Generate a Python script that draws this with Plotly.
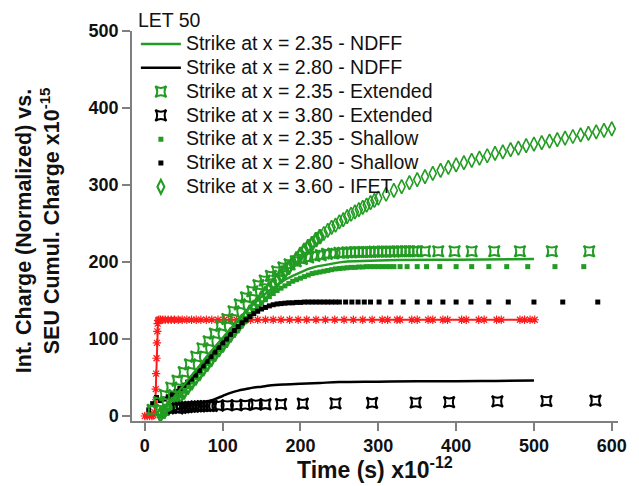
import plotly.graph_objects as go

# ---------------- data (time in ps, charge in fC) ----------------
red_t = [0, 3, 6, 9, 11, 12.5, 13.5, 14, 14.5, 15, 15.5, 16, 16.5, 17, 18, 20, 23, 26, 30, 34,
         38, 43, 48, 54, 60, 66, 72, 79, 86, 94, 102, 110, 118, 127, 136, 145, 155, 165, 175, 186,
         197, 208, 220, 232, 244, 256, 268, 280, 292, 305, 312, 324, 328, 343, 350, 364, 370, 383, 389, 407,
         413, 429, 436, 452, 458, 482, 488, 495, 501]
red_v = [0, 0, 0, 0, 1, 5, 18, 35, 55, 75, 95, 110, 120, 124, 125, 125, 125, 125, 125, 125,
         125, 125, 125, 125, 125, 125, 125, 125, 125, 125, 125, 125, 125, 125, 125, 125, 125, 125, 125, 125,
         125, 125, 125, 125, 125, 125, 125, 125, 125, 125, 125, 125, 125, 125, 125, 125, 125, 125, 125, 125,
         125, 125, 125, 125, 125, 125, 125, 125, 125]

g_ndff_t = [20, 25, 30, 40, 50, 60, 70, 80, 90, 100, 110, 120, 130, 140, 150, 160, 170, 180, 190, 200,
            210, 220, 230, 240, 250, 260, 280, 300, 325, 350, 375, 400, 450, 500]
g_ndff_v = [2, 8, 15, 28, 40, 53, 65, 78, 90, 102, 114, 125, 136, 146, 155, 163, 170, 177, 182, 187,
            191, 194, 196, 198, 199.5, 200.5, 201.5, 202, 202.5, 203, 203, 203, 203.5, 204]

k_ndff_t = [30, 40, 50, 60, 70, 80, 90, 100, 110, 120, 130, 140, 150, 160, 180, 200, 225, 250, 300,
            350, 400, 450, 500]
k_ndff_v = [3, 8, 11.5, 14, 16, 19, 22, 26, 30, 33, 35, 37, 38, 39.5, 41, 42, 43, 44, 44.5,
            45, 45, 45.5, 46]

g_ext_t = [10, 18, 26, 34, 42, 50, 58, 66, 74, 82, 90, 98, 106, 114, 122, 130, 138, 146, 154, 162,
           170, 178, 186, 194, 202, 210, 218, 226, 234, 242, 250, 255, 260, 265, 270, 275, 280, 285, 290, 295,
           300, 305, 310, 315, 320, 325, 330, 335, 340, 345, 350, 360, 377, 398, 420, 449, 482, 523, 571]
g_ext_v = [8, 18, 27, 37, 46, 57, 67, 77, 88, 97, 107, 117, 126, 136, 145, 154, 162, 170, 176, 182,
           188, 193, 197, 201, 204, 206, 208, 209, 210.5, 211, 212, 212, 212.5, 212.5, 213, 213, 213, 213, 213, 213.5,
           213.5, 213.5, 213.5, 213.5, 213.5, 214, 214, 214, 214, 214, 214, 214, 214, 214, 214, 214, 214, 214, 214]

k_ext_t = [42, 46, 50, 54, 58, 62, 66, 70, 74, 78, 82, 86, 94, 106, 118, 129, 143, 155, 175, 203,
           245, 292, 348, 391, 453, 516, 579]
k_ext_v = [10, 10.5, 11, 11.5, 12, 12, 12.5, 12.5, 13, 13, 13, 13, 13.5, 14, 14, 14.5, 15, 15, 15.5, 16,
           16.5, 17, 17.5, 18, 19, 19.5, 20]

g_sh_t = [20, 25, 30, 35, 40, 45, 50, 55, 60, 65, 70, 75, 80, 85, 90, 95, 100, 105, 110, 115,
          120, 125, 130, 135, 140, 145, 150, 155, 160, 165, 170, 175, 180, 185, 190, 195, 200, 205, 210, 215,
          220, 225, 230, 235, 240, 245, 250, 255, 260, 265, 270, 275, 280, 285, 290, 295, 300, 305, 310, 315,
          320, 328, 337, 350, 362, 379, 400, 420, 442, 465, 492, 527, 564]
g_sh_v = [0, 3, 8, 14, 20, 26, 32, 38, 44, 50, 56, 62, 68, 74, 80, 86, 92, 98, 104, 110,
          116, 121, 127, 132, 137, 142, 147, 151, 155, 159, 163, 166, 169, 172, 175, 177, 179, 181, 183, 185,
          186, 187, 188, 189, 190, 191, 191.5, 192, 192.5, 193, 193, 193.5, 193.5, 194, 194, 194, 194, 194, 194, 194,
          194, 194, 194, 194, 194, 194, 194, 194, 194, 194, 194, 194, 194]

k_sh_t = [5, 10, 15, 20, 25, 30, 35, 40, 45, 50, 55, 60, 65, 70, 75, 80, 85, 90, 95, 100, 105, 110, 115,
          120, 125, 130, 135, 140, 145, 150, 155, 160, 165, 170, 175, 180, 185, 190, 195, 200, 205, 210, 215,
          220, 225, 230, 235, 240, 245, 250, 258, 266, 274, 282, 290, 301, 316, 332, 350, 366, 383, 400, 419,
          442, 467, 500, 537, 582]
k_sh_v = [8, 16, 24, 20, 22, 25, 28, 32, 36, 40, 44, 48, 53, 59, 65, 71, 77, 83, 89, 95, 100, 106, 111,
          116, 121, 125, 129, 133, 136, 139, 141, 143, 144.5, 145.5, 146, 146.5, 147, 147, 147.5, 147.5, 148, 148, 148,
          148, 148, 148, 148, 148, 148, 148, 148, 148, 148, 148, 148, 148, 148, 148, 148, 148, 148, 148, 148,
          148, 148, 148, 148, 148]

ifet_t = [20, 25, 30, 35, 40, 45, 50, 55, 60, 65, 70, 75, 80, 85, 90, 95, 100, 105, 110, 115,
          120, 125, 130, 135, 140, 145, 150, 155, 160, 165, 170, 175, 180, 185, 190, 195, 200, 205, 210, 215,
          220, 225, 230, 235, 240, 245, 250, 255, 260, 265, 270, 275, 280, 285, 290, 295, 300, 310, 320, 330,
          340, 350, 360, 370, 380, 390, 400, 410, 420, 430, 440, 450, 460, 470, 480, 490, 500, 510, 520, 530,
          540, 550, 560, 570, 580, 590, 600]
ifet_v = [2, 6, 10, 15, 20, 25, 31, 37, 43, 49, 55, 61, 67, 73, 80, 86, 92, 98, 105, 111,
          117, 123, 129, 135, 141, 147, 153, 159, 165, 170, 176, 182, 188, 193, 199, 204, 210, 215, 220, 224,
          229, 233, 237, 241, 245, 248, 252, 255, 259, 262, 265, 268, 271, 274, 277, 280, 283, 288, 293, 298,
          303, 307, 311, 315, 319, 323, 326, 329, 332, 335, 338, 341, 343, 346, 348, 351, 353, 355, 357, 359,
          361, 363, 365, 367, 369, 371, 373]

x_ticks = [0, 100, 200, 300, 400, 500, 600]
y_ticks = [0, 100, 200, 300, 400, 500]

GREEN = "#229c22"
BLACK = "#000000"
RED = "#ff1a1a"
AXIS = "#7f7f7f"
FONT = "Liberation Sans, Arial, sans-serif"


def lab(s):
    return '<span style="font-size:19.5px">' + s + '</span>'


# heavier outlines where the IFET diamonds pile up inside the rising band
ifet_edge = [2.6 if t < 230 else 1.6 for t in ifet_t]

fig = go.Figure()

# red reference curve (no legend entry)
fig.add_trace(go.Scatter(x=red_t, y=red_v, mode="lines+markers", showlegend=False,
                         line=dict(color=RED, width=2),
                         marker=dict(symbol="asterisk-open", size=7, color=RED,
                                     line=dict(color=RED, width=1.2))))
# IFET drawn underneath the other green families
fig.add_trace(go.Scatter(x=ifet_t, y=ifet_v, mode="markers", name=lab("Strike at x = 3.60 - IFET"),
                         legendrank=7,
                         marker=dict(symbol="diamond-tall-open", size=10, color=GREEN,
                                     line=dict(color=GREEN, width=ifet_edge))))
fig.add_trace(go.Scatter(x=g_sh_t, y=g_sh_v, mode="markers", name=lab("Strike at x = 2.35 - Shallow"),
                         legendrank=5,
                         marker=dict(symbol="square", size=5, color=GREEN)))
fig.add_trace(go.Scatter(x=k_sh_t, y=k_sh_v, mode="markers", name=lab("Strike at x = 2.80 - Shallow"),
                         legendrank=6,
                         marker=dict(symbol="square", size=5, color=BLACK)))
fig.add_trace(go.Scatter(x=g_ndff_t, y=g_ndff_v, mode="lines", name=lab("Strike at x = 2.35 - NDFF"),
                         legendrank=1,
                         line=dict(color=GREEN, width=2.5)))
fig.add_trace(go.Scatter(x=k_ndff_t, y=k_ndff_v, mode="lines", name=lab("Strike at x = 2.80 - NDFF"),
                         legendrank=2,
                         line=dict(color=BLACK, width=2.5, shape="spline")))
fig.add_trace(go.Scatter(x=g_ext_t, y=g_ext_v, mode="markers", name=lab("Strike at x = 2.35 - Extended"),
                         legendrank=3,
                         marker=dict(symbol="star-square-open", size=10, color=GREEN,
                                     line=dict(color=GREEN, width=2))))
fig.add_trace(go.Scatter(x=k_ext_t, y=k_ext_v, mode="markers", name=lab("Strike at x = 3.80 - Extended"),
                         legendrank=4,
                         marker=dict(symbol="star-square-open", size=10, color=BLACK,
                                     line=dict(color=BLACK, width=2))))

axis_common = dict(showgrid=False, zeroline=False, showline=True, linecolor=AXIS, linewidth=1.5,
                   ticks="outside", ticklen=8, tickwidth=1.5, tickcolor=AXIS,
                   tickfont=dict(family=FONT, size=18, color="#111111", weight="bold"))

fig.update_layout(
    width=639, height=486,
    margin=dict(l=132, r=12, t=25, b=65),
    paper_bgcolor="white", plot_bgcolor="white",
    font=dict(family=FONT, color="#111111"),
    xaxis=dict(range=[-16.5, 608], tickvals=x_ticks, **axis_common),
    yaxis=dict(range=[-6.5, 500], tickvals=y_ticks, **axis_common),
    legend=dict(x=0.008, y=1.05, xanchor="left", yanchor="top", bgcolor="rgba(0,0,0,0)",
                font=dict(family=FONT, size=16, color="#111111"), itemwidth=40,
                traceorder="normal",
                title=dict(text=lab("LET 50"), font=dict(family=FONT, size=12, color="#111111"))),
    annotations=[
        dict(text="<b>Int. Charge (Normalized) vs.</b>", textangle=-90, xref="paper", yref="paper",
             x=-0.222, y=0.487, xanchor="center", yanchor="middle", showarrow=False,
             font=dict(family=FONT, size=21.5, color="#111111")),
        dict(text="<b>SEU Cumul. Charge x10<sup>-15</sup></b>", textangle=-90, xref="paper", yref="paper",
             x=-0.168, y=0.513, xanchor="center", yanchor="middle", showarrow=False,
             font=dict(family=FONT, size=21.5, color="#111111")),
        dict(text="<b>Time (s) x10<sup>-12</sup></b>", xref="paper", yref="paper",
             x=0.5, y=-0.163, xanchor="center", yanchor="bottom", showarrow=False,
             font=dict(family=FONT, size=23, color="#111111")),
    ],
)

fig.write_html("out.html")
